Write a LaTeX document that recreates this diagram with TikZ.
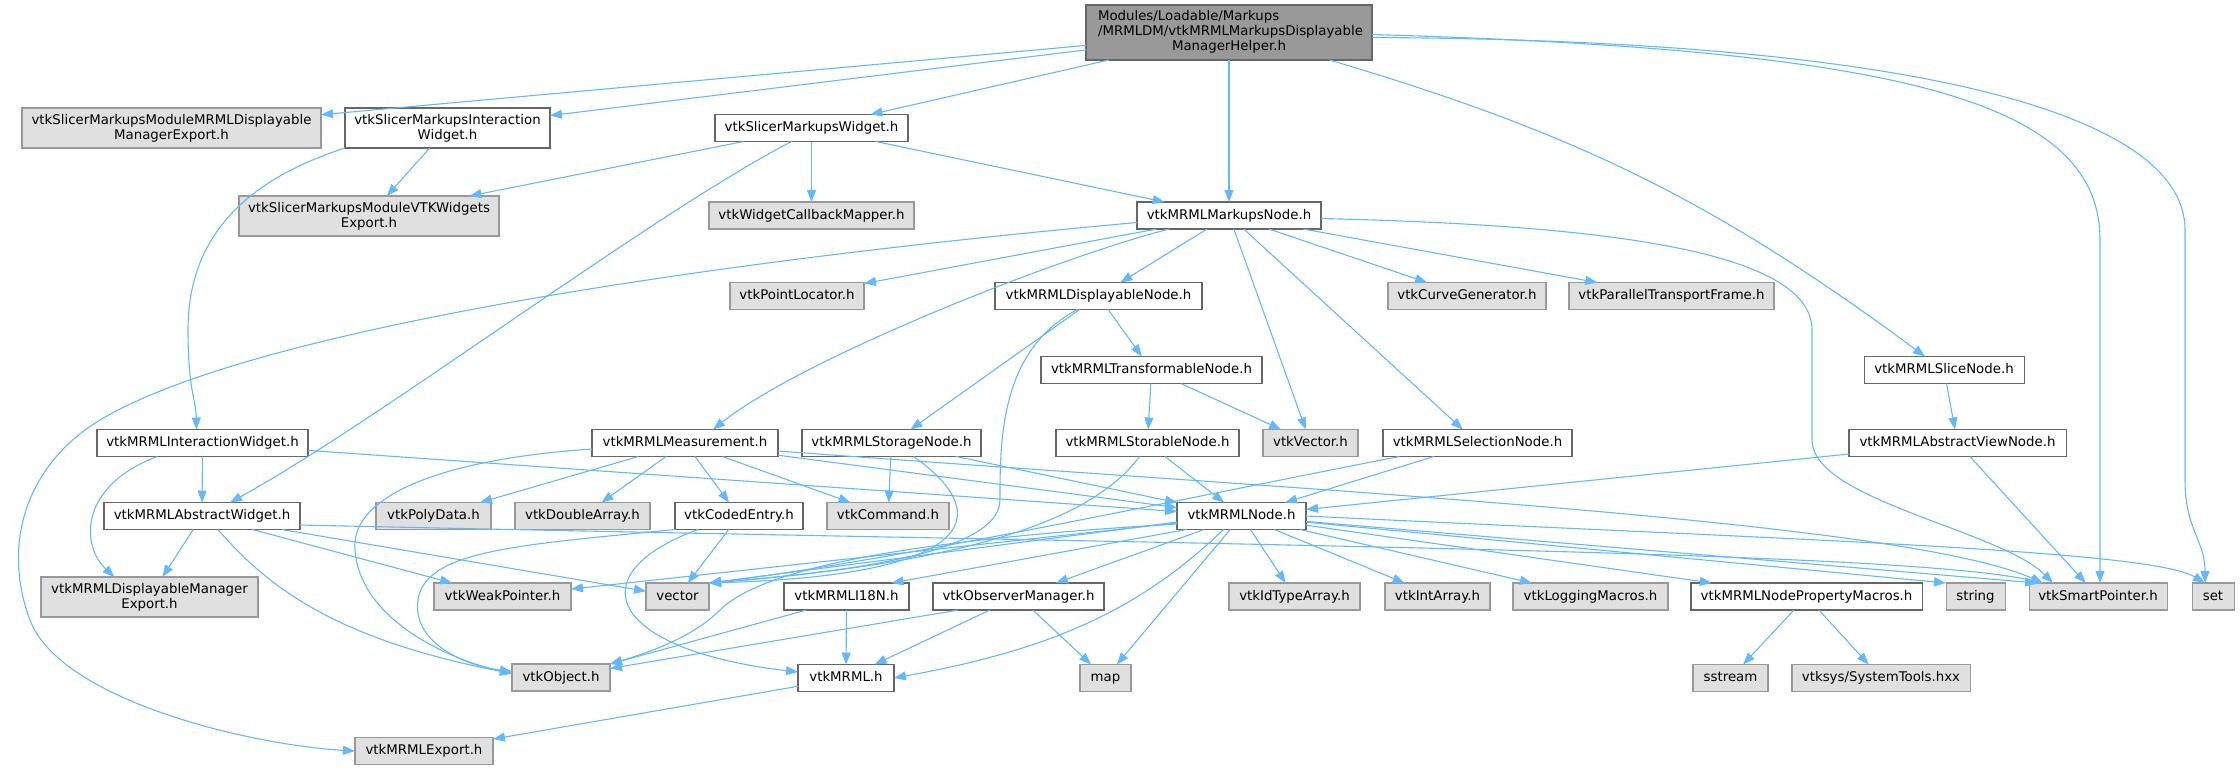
\documentclass[tikz,border=0pt]{standalone}
\usepackage{fontspec}
\setmainfont{DejaVu Sans}
\usetikzlibrary{arrows.meta}
\definecolor{edgec}{HTML}{63B8FF}
\definecolor{grayfill}{HTML}{E0E0E0}
\definecolor{grayline}{HTML}{999999}
\definecolor{darkline}{HTML}{666666}
\definecolor{rootfill}{HTML}{999999}
\begin{document}
\begin{tikzpicture}[x=1pt,y=-1pt,
  every node/.style={font=\fontsize{13.33}{15}\selectfont, inner sep=0pt, outer sep=0pt},
  wbox/.style={draw=darkline, fill=white, line width=1.05pt, minimum height=27pt, align=center, text height=9.8pt, text depth=2.8pt},
  gbox/.style={draw=grayline, fill=grayfill, line width=1.05pt, minimum height=27pt, align=center, text height=9.8pt, text depth=2.8pt},
  twoline/.style={minimum height=40pt, text height={}, text depth={}},
  dep/.style={draw=edgec, line width=1.1pt, -{Triangle[length=12pt,width=9pt]}},
]
\useasboundingbox (0,0) rectangle (2240,769);

% ---------- nodes ----------
\node[wbox, fill=rootfill, minimum width=286pt, minimum height=55pt, text height={}, text depth={}] (root) at (1229,32.5) {};
\node[anchor=west] (rootA) at (1098,17) {Modules/Loadable/Markups};
\node[anchor=west] (rootB) at (1098,32) {/MRMLDM/vtkMRMLMarkupsDisplayable};
\node (rootC) at (1229,47) {ManagerHelper.h};

\node[gbox, twoline, minimum width=299pt] (smde) at (171.5,128) {vtkSlicerMarkupsModuleMRMLDisplayable\\ManagerExport.h};
\node[wbox, twoline, minimum width=205pt] (siw) at (447.5,128) {vtkSlicerMarkupsInteraction\\Widget.h};
\node[wbox, minimum width=193pt] (smw) at (811.5,128) {vtkSlicerMarkupsWidget.h};
\node[gbox, twoline, minimum width=260pt] (vwe) at (369,216) {vtkSlicerMarkupsModuleVTKWidgets\\Export.h};
\node[gbox, minimum width=205pt] (wcm) at (811.5,215.5) {vtkWidgetCallbackMapper.h};
\node[wbox, minimum width=184pt] (mkn) at (1229,215.5) {vtkMRMLMarkupsNode.h};
\node[gbox, minimum width=134pt] (ploc) at (797,296) {vtkPointLocator.h};
\node[wbox, minimum width=207pt] (dn) at (1098.5,296) {vtkMRMLDisplayableNode.h};
\node[gbox, minimum width=158pt] (cg) at (1467,296) {vtkCurveGenerator.h};
\node[gbox, minimum width=205pt] (ptf) at (1671.5,296) {vtkParallelTransportFrame.h};
\node[wbox, minimum width=221pt] (tn) at (1151.5,370) {vtkMRMLTransformableNode.h};
\node[wbox, minimum width=160pt] (sln) at (1944,370) {vtkMRMLSliceNode.h};
\node[wbox, minimum width=211pt] (iw) at (202.5,443) {vtkMRMLInteractionWidget.h};
\node[wbox, minimum width=186pt] (meas) at (685,443) {vtkMRMLMeasurement.h};
\node[wbox, minimum width=179pt] (stg) at (891.5,443) {vtkMRMLStorageNode.h};
\node[wbox, minimum width=183pt] (stb) at (1147.5,443) {vtkMRMLStorableNode.h};
\node[gbox, minimum width=95pt] (vec) at (1310.5,443) {vtkVector.h};
\node[wbox, minimum width=189pt] (sel) at (1477.5,443) {vtkMRMLSelectionNode.h};
\node[wbox, minimum width=217pt] (avn) at (1957.5,443) {vtkMRMLAbstractViewNode.h};
\node[wbox, minimum width=196pt] (aw) at (202,516) {vtkMRMLAbstractWidget.h};
\node[gbox, minimum width=115pt] (pd) at (433.5,516) {vtkPolyData.h};
\node[gbox, minimum width=135pt] (da) at (582.5,516) {vtkDoubleArray.h};
\node[wbox, minimum width=128pt] (ce) at (739,516) {vtkCodedEntry.h};
\node[gbox, minimum width=122pt] (cmd) at (888,516) {vtkCommand.h};
\node[wbox, minimum width=129pt] (node) at (1241.5,516) {vtkMRMLNode.h};
\node[gbox, twoline, minimum width=217pt] (dme) at (149.5,597) {vtkMRMLDisplayableManager\\Export.h};
\node[gbox, minimum width=137pt] (wp) at (502.5,596.5) {vtkWeakPointer.h};
\node[gbox, minimum width=63pt] (vector) at (677.5,596.5) {vector};
\node[wbox, minimum width=125pt] (i18n) at (846.5,596.5) {vtkMRMLI18N.h};
\node[wbox, minimum width=171pt] (om) at (1018.5,596.5) {vtkObserverManager.h};
\node[gbox, minimum width=131pt] (ida) at (1294.5,596.5) {vtkIdTypeArray.h};
\node[gbox, minimum width=105pt] (ia) at (1437.5,596.5) {vtkIntArray.h};
\node[gbox, minimum width=155pt] (lm) at (1590.5,596.5) {vtkLoggingMacros.h};
\node[wbox, minimum width=231pt] (npm) at (1806.5,596.5) {vtkMRMLNodePropertyMacros.h};
\node[gbox, minimum width=59pt] (str) at (1975.5,596.5) {string};
\node[gbox, minimum width=138pt] (sp) at (2098,596.5) {vtkSmartPointer.h};
\node[gbox, minimum width=42pt] (set) at (2213,596.5) {set};
\node[gbox, minimum width=98pt] (obj) at (561,677.5) {vtkObject.h};
\node[wbox, minimum width=96pt] (mrml) at (846,678) {vtkMRML.h};
\node[gbox, minimum width=51pt] (map) at (1105.5,678) {map};
\node[gbox, minimum width=75pt] (sst) at (1730.5,678) {sstream};
\node[gbox, minimum width=178pt] (sys) at (1881,678) {vtksys/SystemTools.hxx};
\node[gbox, minimum width=138pt] (exp) at (424,751) {vtkMRMLExport.h};

% ---------- edges ----------
% root
\draw[dep] (root) -- (smde);
\draw[dep] (root) -- (siw);
\draw[dep] (root) -- (smw);
\draw[dep] (root) -- (mkn);
\draw[dep] (root) to[bend left=10] (sln);
\draw[dep] ([yshift=-2pt]root.east) .. controls (1900,50) and (2100,100) .. (2100,240) -- ([xshift=2pt]sp.north);
\draw[dep] ([yshift=-5pt]root.east) .. controls (1900,40) and (2185,110) .. (2185,230) -- (2185,480) .. controls (2185,530) and (2205,540) .. ([xshift=-8pt]set.north);
% SlicerMarkupsWidget
\draw[dep] (smw) -- (vwe);
\draw[dep] (smw) -- (wcm);
\draw[dep] (smw) -- (mkn);
\draw[dep] ([xshift=-20pt]smw.south) .. controls (650,215) and (380,420) .. ([xshift=28pt]aw.north);
% SlicerMarkupsInteractionWidget
\draw[dep] (siw) -- (vwe);
\draw[dep] (siw.south west) .. controls (230,185) and (188,250) .. (188,330) .. controls (188,390) and (196,400) .. ([xshift=-6pt]iw.north);
% MarkupsNode
\draw[dep] ([yshift=-7pt]mkn.west) .. controls (700,262) and (250,330) .. (100,420) .. controls (30,462) and (0,540) .. (30,620) .. controls (60,700) and (250,745) .. (exp.west);
\draw[dep] (mkn) -- (ploc);
\draw[dep] ([xshift=-60pt]mkn.south) .. controls (1050,260) and (800,360) .. ([xshift=28pt]meas.north);
\draw[dep] (mkn) -- (dn);
\draw[dep] (mkn) -- (vec);
\draw[dep] (mkn) -- (sel);
\draw[dep] (mkn) -- (cg);
\draw[dep] (mkn) -- (ptf);
\draw[dep] ([yshift=-3pt]mkn.east) .. controls (1600,225) and (1812,250) .. (1812,330) -- (1812,440) .. controls (1812,500) and (2000,530) .. ([xshift=-45pt]sp.north);
% DisplayableNode
\draw[dep] (dn) -- (stg);
\draw[dep] (dn) -- (tn);
\draw[dep] ([xshift=-21pt]dn.south) .. controls (1000,350) and (1000,440) .. (1000,500) .. controls (1000,560) and (800,575) .. (vector.north east);
% StorageNode
\draw[dep] (stg) -- (cmd);
\draw[dep] (stg) -- (node);
\draw[dep] ([xshift=22pt]stg.south) .. controls (990,510) and (990,575) .. (vector.north east);
% TransformableNode
\draw[dep] (tn) -- (stb);
\draw[dep] (tn) -- (vec);
% StorableNode
\draw[dep] (stb) -- (node);
\draw[dep] ([xshift=-8pt]stb.south) .. controls (1100,510) and (1000,560) .. (vector.north east);
% SelectionNode
\draw[dep] (sel) -- (node);
\draw[dep] ([xshift=-78pt]sel.south) .. controls (1200,495) and (900,560) .. (vector.north east);
% Slice / AbstractView
\draw[dep] (sln) -- (avn);
\draw[dep] (avn) -- (node);
\draw[dep] (avn) -- (sp);
% InteractionWidget
\draw[dep] (iw) -- (aw);
\draw[dep] ([xshift=-45pt]iw.south) .. controls (80,485) and (80,545) .. ([xshift=-35pt]dme.north);
\draw[dep] (iw) -- (node);
% AbstractWidget
\draw[dep] (aw) -- (dme);
\draw[dep] ([xshift=16pt]aw.south) .. controls (270,590) and (340,640) .. ([yshift=4pt]obj.west);
\draw[dep] (aw) -- (wp);
\draw[dep] (aw) -- (vector);
\draw[dep] ([yshift=-9pt]aw.east) .. controls (1200,545) and (1900,550) .. ([xshift=-55pt]sp.north);
% Measurement
\draw[dep] ([yshift=-6pt]meas.west) .. controls (430,460) and (350,500) .. (355,550) .. controls (360,620) and (450,660) .. ([yshift=4pt]obj.west);
\draw[dep] (meas) -- (pd);
\draw[dep] (meas) -- (da);
\draw[dep] (meas) -- (ce);
\draw[dep] (meas) -- (cmd);
\draw[dep] (meas) -- (node);
\draw[dep] ([yshift=-8pt]meas.east) .. controls (1300,490) and (1900,520) .. ([xshift=-55pt]sp.north);
% CodedEntry
\draw[dep] (ce) -- (vector);
\draw[dep] (ce.south west) .. controls (520,545) and (425,550) .. (418,600) .. controls (412,640) and (460,665) .. ([yshift=6pt]obj.west);
\draw[dep] ([xshift=-41pt]ce.south) .. controls (575,575) and (610,650) .. ([yshift=6pt]mrml.west);
% MRMLNode
\draw[dep] ([yshift=-6pt]node.west) -- (vector.north east);
\draw[dep] (node) -- (wp);
\draw[dep] ([yshift=-8pt]node.west) .. controls (900,540) and (760,570) .. (720,610) .. controls (690,640) and (640,655) .. (obj.north east);
\draw[dep] ([xshift=-55pt]node.south) -- ([xshift=45pt]i18n.north);
\draw[dep] (node) -- (om);
\draw[dep] ([xshift=-18pt]node.south) .. controls (1140,610) and (1050,650) .. (mrml.east);
\draw[dep] (node) -- (map);
\draw[dep] (node) -- (ida);
\draw[dep] (node) -- (ia);
\draw[dep] (node) -- (lm);
\draw[dep] (node) -- (npm);
\draw[dep] (node) -- (str.north west);
\draw[dep] (node) -- ([xshift=8pt]sp.north west);
\draw[dep] (node.east) .. controls (1800,540) and (2150,550) .. ([xshift=-8pt]set.north);
% I18N / ObserverManager
\draw[dep] ([xshift=-40pt]i18n.south) -- (obj.north east);
\draw[dep] (i18n) -- (mrml);
\draw[dep] ([xshift=-60pt]om.south) -- ([yshift=9pt]obj.east);
\draw[dep] (om) -- (mrml);
\draw[dep] (om) -- (map);
% vtkMRML / PropertyMacros
\draw[dep] (mrml) -- (exp);
\draw[dep] (npm) -- (sst);
\draw[dep] (npm) -- (sys);
\end{tikzpicture}
\end{document}
